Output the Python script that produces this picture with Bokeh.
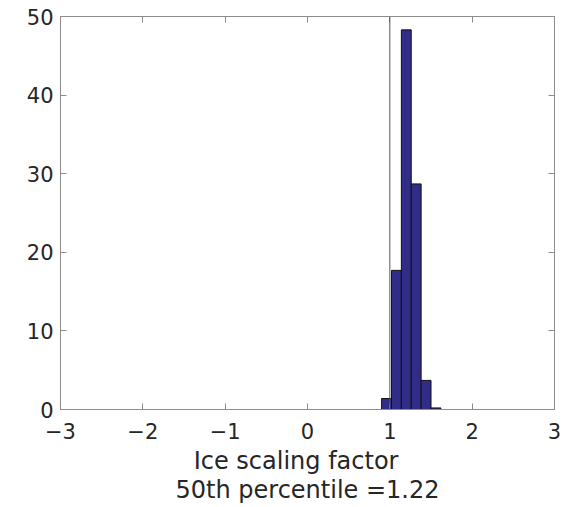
from bokeh.plotting import figure
from bokeh.models import LinearAxis, FixedTicker, Range1d, Span, CustomJSTickFormatter
from bokeh.embed import file_html
from bokeh.resources import INLINE

# Histogram data (percent of samples per bin)
bin_left = [0.90, 1.02, 1.14, 1.26, 1.38, 1.50]
bin_right = [1.02, 1.14, 1.26, 1.38, 1.50, 1.62]
percent = [1.4, 17.7, 48.3, 28.7, 3.7, 0.2]
x_ticks = [-3, -2, -1, 0, 1, 2, 3]
y_ticks = [0, 10, 20, 30, 40, 50]
ref_value = 1.0
# first line padded like a MATLAB char matrix
x_label = "Ice scaling factor\u00a0\u00a0\u00a0\n50th percentile =1.22"

FONT = "DejaVu Sans"
TXT = "#262626"
AX = "#8c8c8c"

p = figure(width=562, height=507, output_backend="svg", toolbar_location=None,
           x_range=Range1d(-3, 3), y_range=Range1d(0, 50),
           min_border_left=60, min_border_right=8, min_border_top=16, min_border_bottom=97)
p.grid.visible = False
p.outline_line_color = AX
p.outline_line_width = 1
p.background_fill_color = "white"
p.border_fill_color = "white"

p.quad(left=bin_left, right=bin_right, bottom=0, top=percent,
       fill_color="#302c88", line_color="#111111", line_width=1)

p.add_layout(Span(location=ref_value, dimension="height", line_color="#555555", line_width=1))

for ax in p.xaxis:
    ax.ticker = FixedTicker(ticks=x_ticks)
    ax.axis_label = x_label
for ax in p.yaxis:
    ax.ticker = FixedTicker(ticks=y_ticks)

for ax in list(p.xaxis) + list(p.yaxis):
    ax.major_tick_in = 6
    ax.major_tick_out = 0
    ax.minor_tick_in = 0
    ax.minor_tick_out = 0
    ax.axis_line_color = AX
    ax.major_tick_line_color = AX
    ax.major_label_text_font = FONT
    ax.major_label_text_font_size = "21px"
    ax.major_label_text_color = TXT
    ax.axis_label_text_font = FONT
    ax.axis_label_text_font_size = "24px"
    ax.axis_label_text_font_style = "normal"
    ax.axis_label_text_color = TXT
    ax.axis_label_text_line_height = 1.06

p.xaxis.major_label_standoff = 13
p.xaxis.axis_label_standoff = 5
p.yaxis.major_label_standoff = 7

blank = CustomJSTickFormatter(code="return ''")
top = LinearAxis(ticker=FixedTicker(ticks=x_ticks), formatter=blank,
                 major_tick_in=6, major_tick_out=0, minor_tick_in=0, minor_tick_out=0,
                 major_label_standoff=0,
                 axis_line_color=AX, major_tick_line_color=AX)
right = LinearAxis(ticker=FixedTicker(ticks=y_ticks), formatter=blank,
                   major_tick_in=6, major_tick_out=0, minor_tick_in=0, minor_tick_out=0,
                   major_label_standoff=0,
                   axis_line_color=AX, major_tick_line_color=AX)
p.add_layout(top, "above")
p.add_layout(right, "right")

open("out.html", "w").write(file_html(p, INLINE))
